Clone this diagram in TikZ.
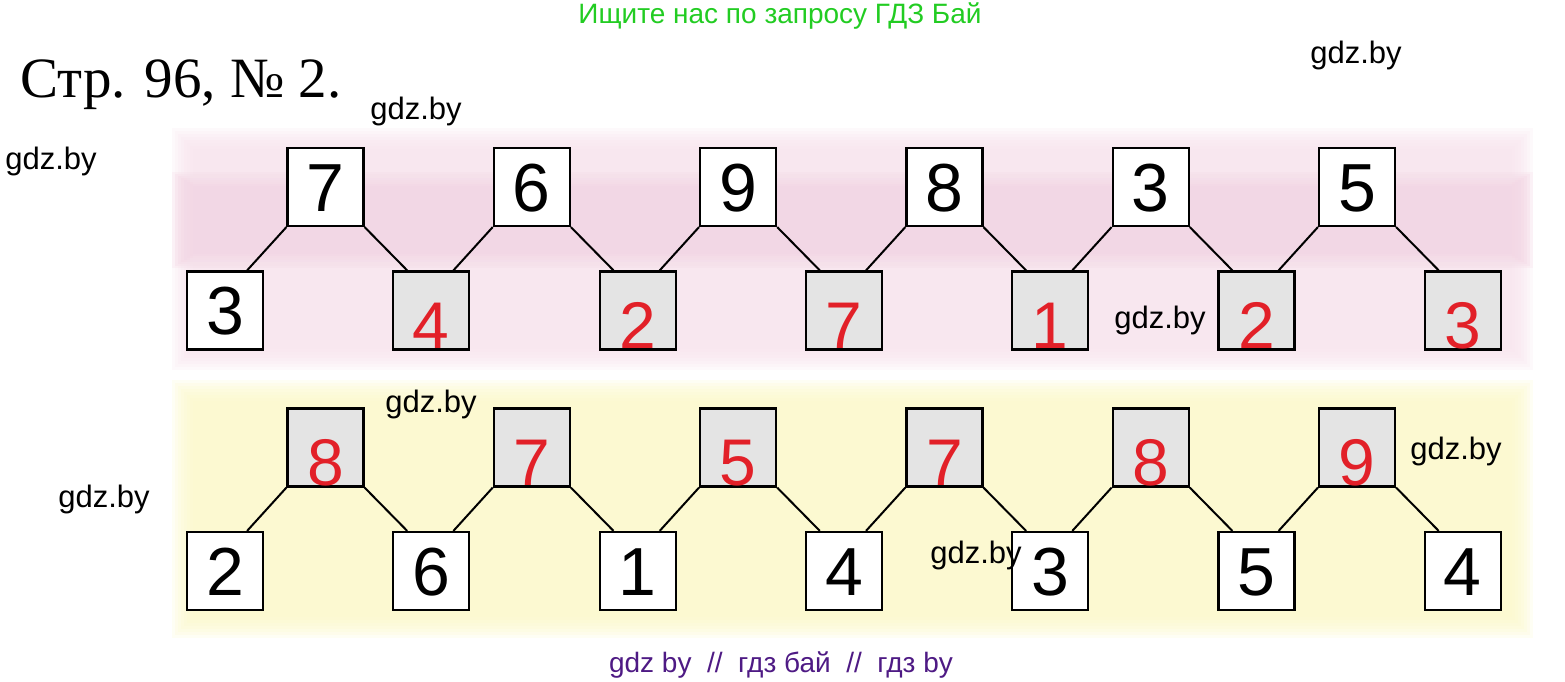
\documentclass[tikz,border=0pt]{standalone}
\usepackage{fontspec}
\setmainfont{Liberation Serif}
\newfontfamily\sansf{Liberation Sans}
\usepackage{color}

\definecolor{pinkbg}{RGB}{247,226,236}
\definecolor{pinkmid}{RGB}{242,208,225}
\definecolor{yellowbg}{RGB}{251,248,200}
\definecolor{boxgray}{RGB}{228,228,228}
\definecolor{ansred}{RGB}{226,32,40}
\definecolor{adgreen}{RGB}{34,204,34}
\definecolor{adpurple}{RGB}{78,26,132}

\tikzset{
    numbox/.style={draw, line width=2.2pt, fill=white, minimum width=76pt, minimum height=78pt,
        inner sep=0pt, text height=48pt, text depth=0pt, font=\sansf\fontsize{68}{68}\selectfont},
    ansbox/.style={numbox, fill=boxgray, text=ansred, font=\sansf\fontsize{66}{66}\selectfont},
    wmark/.style={inner sep=0pt, font=\sansf\fontsize{31}{31}\selectfont},
    link/.style={line width=2pt}
}

\begin{document}
\begin{tikzpicture}[x=1pt, y=-1pt]
        \pgfmathsetmacro{\dx}{206.3}
        \useasboundingbox (0,0) rectangle (1565,682);

        % coloured bands, soft edges
        \foreach \s in {0,...,7}{
            \fill[pinkbg, opacity=0.2] (172+3*\s,128+3*\s) rectangle (1533-3*\s,370-3*\s);
            \fill[pinkmid, opacity=0.2] (172+3*\s,172+2*\s) rectangle (1533-3*\s,268-2*\s);
            \fill[yellowbg, opacity=0.2] (172+3*\s,380+3*\s) rectangle (1533-3*\s,638-3*\s);
        }

        % first row
        \foreach \v [count=\i from 0] in {7,6,9,8,3,5}
            \node[numbox] (ta\i) at (325.5+\dx*\i,187) {\v};
        \node[numbox] (tb0) at (225,310.5) {3};
        \foreach \v [count=\i] in {4,2,7,1,2,3}
            \node[ansbox] (tb\i) at (225+\dx*\i,310.5) {\raisebox{-14pt}{\v}};
        \foreach \i [evaluate=\i as \j using int(\i+1)] in {0,...,5}{
            \draw[link] (ta\i.south west) -- ([xshift=-17pt]tb\i.north east);
            \draw[link] (ta\i.south east) -- ([xshift=15pt]tb\j.north west);
        }

        % second row
        \foreach \v [count=\i from 0] in {8,7,5,7,8,9}
            \node[ansbox] (ba\i) at (325.5+\dx*\i,447.5) {\raisebox{-14pt}{\v}};
        \foreach \v [count=\i from 0] in {2,6,1,4,3,5,4}
            \node[numbox] (bb\i) at (225+\dx*\i,571) {\v};
        \foreach \i [evaluate=\i as \j using int(\i+1)] in {0,...,5}{
            \draw[link] (ba\i.south west) -- ([xshift=-17pt]bb\i.north east);
            \draw[link] (ba\i.south east) -- ([xshift=15pt]bb\j.north west);
        }

        % texts
        \node[anchor=base west, inner sep=0pt, font=\fontsize{57}{57}\selectfont] (title) at (20,98) {Стр. 96, № 2.};
        \node[anchor=base, inner sep=0pt, text=adgreen, font=\sansf\fontsize{28}{28}\selectfont] (adtop) at (780,24) {Ищите нас по запросу ГДЗ Бай};
        \node[anchor=base, inner sep=0pt, text=adpurple, font=\sansf\fontsize{28}{28}\selectfont] (adbottom) at (781,672) {gdz by\ \ //\ \ гдз бай\ \ //\ \ гдз by};

        \foreach \x/\y [count=\k] in {1356/55, 416/111, 51/161, 1160/320, 431/404, 1456/451, 104/499, 976/555}
            \node[wmark] (wm\k) at (\x,\y) {gdz.by};
\end{tikzpicture}
\end{document}
